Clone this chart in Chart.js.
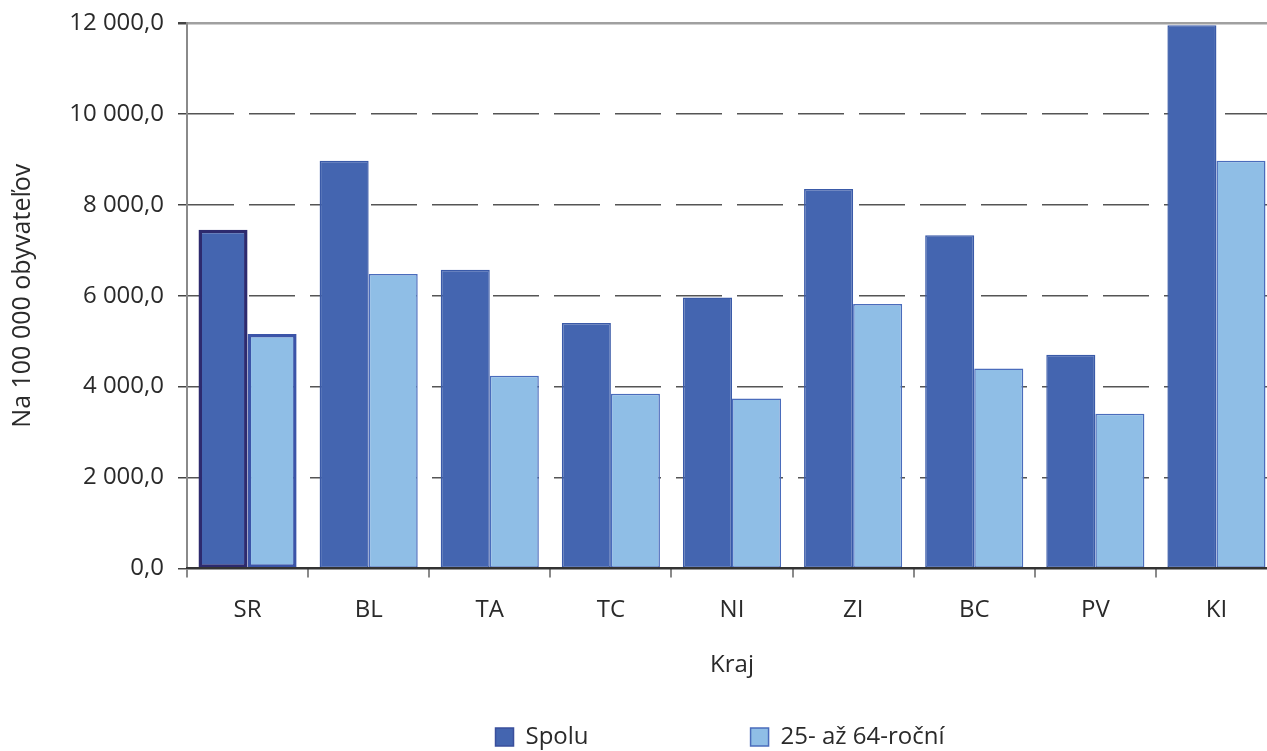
<!DOCTYPE html>
<html>
<head>
<meta charset="utf-8">
<script src="https://cdn.jsdelivr.net/npm/chart.js@4"></script>
<style>
  html, body { margin: 0; padding: 0; background: #fff; overflow: hidden; }
  #wrap { width: 1277px; height: 751px; }
</style>
</head>
<body>
<div id="wrap"><canvas id="KrajChart"></canvas></div>
<script>
var kraje = ['SR', 'BL', 'TA', 'TC', 'NI', 'ZI', 'BC', 'PV', 'KI'];
var spolu = [7450, 8970, 6570, 5400, 5960, 8350, 7330, 4700, 11950];
var vek25az64 = [5160, 6480, 4240, 3840, 3740, 5820, 4400, 3400, 8970];
var yTickLabels = ['0,0', '2 000,0', '4 000,0', '6 000,0', '8 000,0', '10 000,0', '12 000,0'];

var FONT = "'Open Sans', sans-serif";
var LEGEND_GAP = 162;
var legendBorders = ['#3a4f9c', '#4a6cbc'];

// shift the legend up so the wide label padding does not eat chart height
var legendShift = {
	id: 'legendShift',
	afterLayout: function (chart) {
		if (chart.legend) {
			chart.legend.top -= LEGEND_GAP;
			chart.legend.left -= 24;
		}
	}
};

Chart.defaults.font.family = FONT;
Chart.defaults.font.size = 24;
Chart.defaults.color = '#2a2a2a';

var ctx = document.getElementById('KrajChart');
var config = {
	type: 'bar',
	data: {
		labels: kraje,
		datasets: [{
			label: 'Spolu',
			data: spolu,
			backgroundColor: '#4465b0',
			borderColor: function (c) { return c.dataIndex === 0 ? '#2d2a6e' : '#3a5aa8'; },
			borderWidth: function (c) { return c.dataIndex === 0 ? 3.5 : 1.5; },
			borderSkipped: false,
			categoryPercentage: 0.81,
			barPercentage: 1
		}, {
			label: '25- až 64-roční',
			data: vek25az64,
			backgroundColor: '#8fbee6',
			borderColor: function (c) { return c.dataIndex === 0 ? '#3b54a8' : '#4a6cbc'; },
			borderWidth: function (c) { return c.dataIndex === 0 ? 3.5 : 1.5; },
			borderSkipped: false,
			categoryPercentage: 0.81,
			barPercentage: 1
		}]
	},
	options: {
		responsive: true,
		maintainAspectRatio: false,
		animation: false,
		layout: { padding: { top: 23, right: 0, left: 0, bottom: 0 } },
		plugins: {
			tooltip: { enabled: false },
			legend: {
				position: 'bottom',
				fullSize: false,
				maxHeight: 26,
				labels: {
					boxWidth: 18,
					boxHeight: 18,
					padding: LEGEND_GAP,
					font: { size: 24 },
					generateLabels: function (chart) {
						var items = Chart.defaults.plugins.legend.labels.generateLabels(chart);
						items.forEach(function (it) {
							it.lineWidth = 1.5;
							it.strokeStyle = legendBorders[it.datasetIndex];
						});
						return items;
					}
				}
			}
		},
		scales: {
			x: {
				grid: {
					offset: true,
					drawOnChartArea: false,
					tickLength: 9,
					tickColor: '#8a8a8a',
					lineWidth: 2
				},
				border: { color: '#333', width: 2, z: 1 },
				ticks: { padding: 18, font: { size: 24 } },
				title: {
					display: true,
					text: 'Kraj',
					font: { size: 24 },
					padding: { top: 9, bottom: 45 }
				}
			},
			y: {
				min: 0,
				max: 12000,
				afterFit: function (s) { s.width = 187; s.paddingTop = 0; },
				ticks: {
					stepSize: 2000,
					padding: 14,
					font: { size: 24 },
					callback: function (v, i) { return yTickLabels[i]; }
				},
				grid: {
					color: function (c) {
						if (c.tick && c.tick.value === 12000) return '#a0a0a0';
						if (c.tick && c.tick.value === 0) return '#333';
						return '#555';
					},
					lineWidth: function (c) { return c.tick && c.tick.value === 12000 ? 2.5 : 1.5; },
					tickColor: '#444',
					tickLength: 9
				},
				border: {
					color: '#8a8a8a',
					width: 2,
					dash: function (c) {
						return c.tick && (c.tick.value === 12000 || c.tick.value === 0) ? [] : [46, 15];
					}
				},
				title: {
					display: true,
					text: 'Na 100 000 obyvateľov',
					font: { size: 25 },
					padding: { top: 8, bottom: 0 }
				}
			}
		}
	},
	plugins: [legendShift]
};
var myChart = new Chart(ctx, config);
</script>
</body>
</html>
